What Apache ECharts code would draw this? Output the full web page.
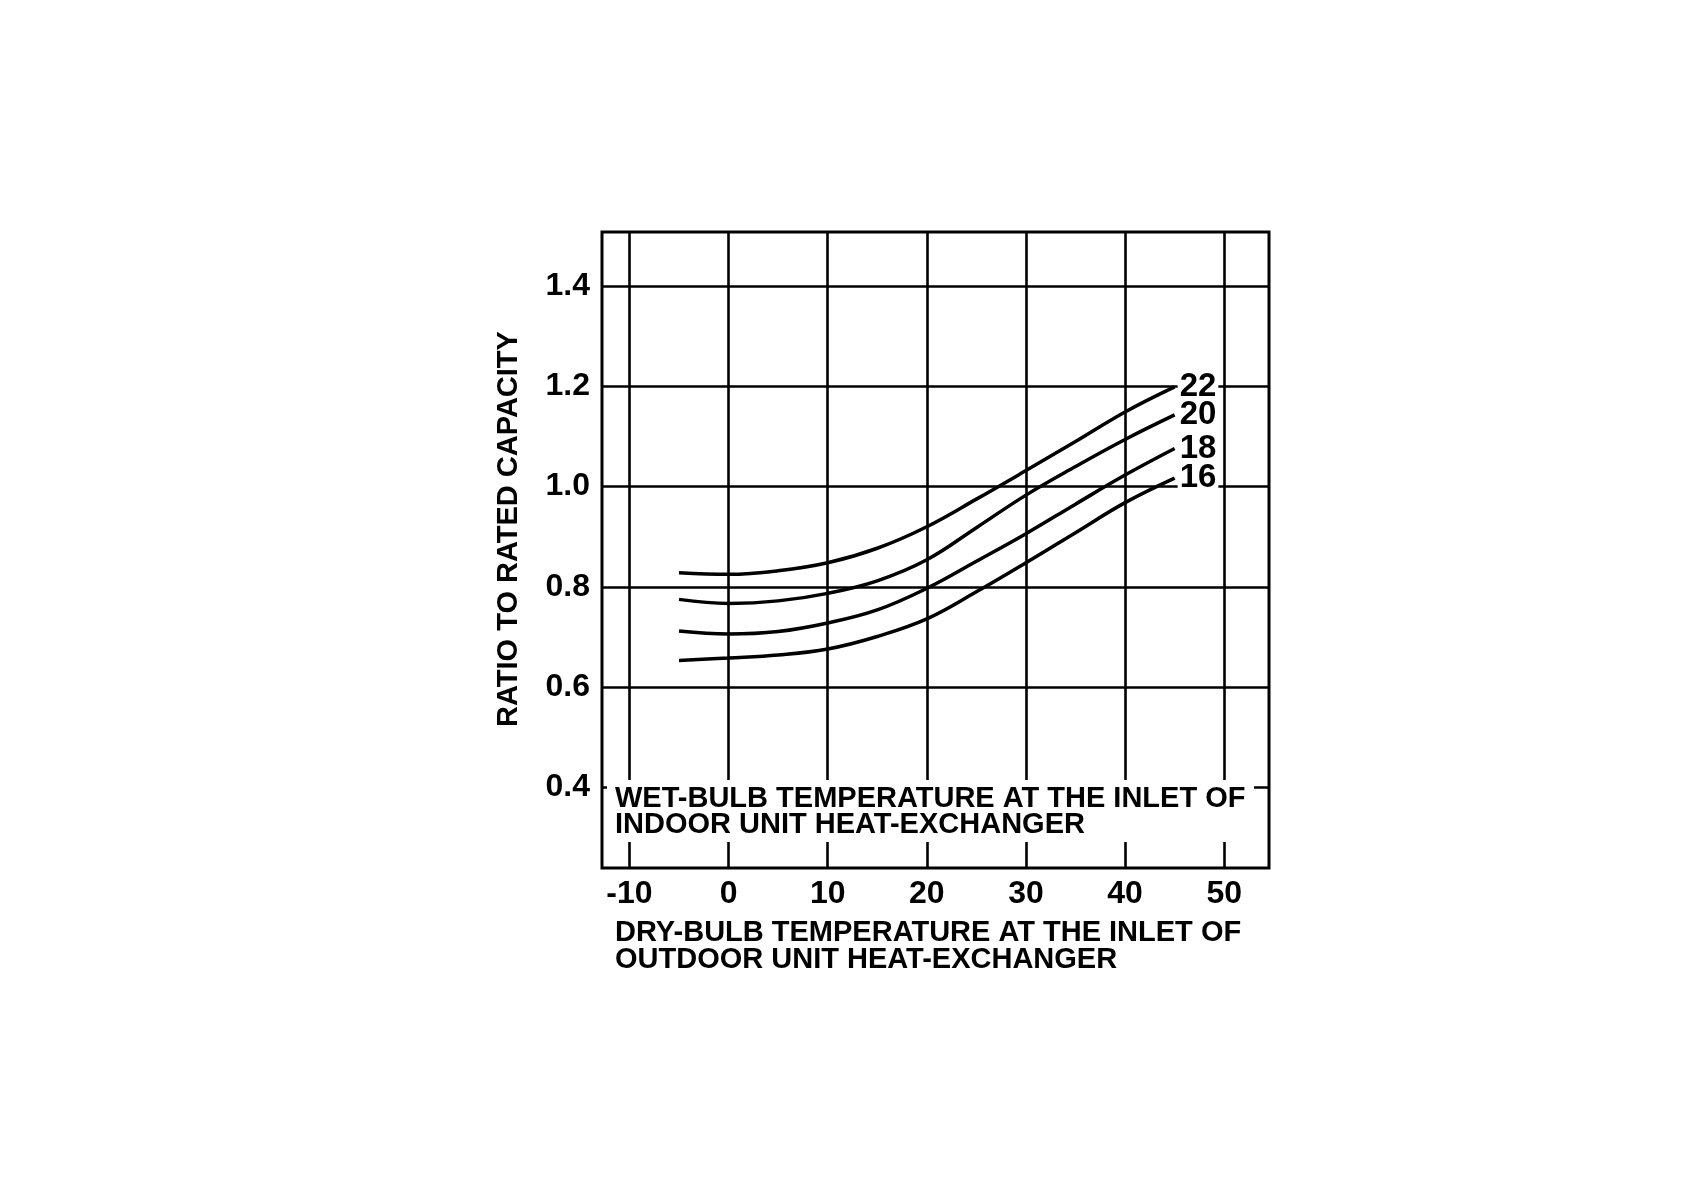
<!DOCTYPE html>
<html><head><meta charset="utf-8">
<script src="https://cdn.jsdelivr.net/npm/echarts@6/dist/echarts.min.js"></script>
<style>html,body{margin:0;padding:0;background:#fff}#c{width:1684px;height:1190px}</style>
</head><body><div id="c"></div>
<script>
// Dry-bulb temperature at outdoor unit inlet (°C)
const dryBulb = [-5, 0, 5, 10, 15, 20, 25, 30, 35, 40, 45];
// Ratio to rated capacity for each indoor wet-bulb temperature
const wb22 = [0.828, 0.825, 0.832, 0.848, 0.877, 0.920, 0.975, 1.032, 1.090, 1.149, 1.199];
const wb20 = [0.775, 0.767, 0.772, 0.787, 0.812, 0.854, 0.918, 0.983, 1.040, 1.094, 1.143];
const wb18 = [0.712, 0.706, 0.711, 0.728, 0.754, 0.797, 0.851, 0.906, 0.965, 1.023, 1.076];
const wb16 = [0.653, 0.658, 0.664, 0.676, 0.701, 0.736, 0.790, 0.848, 0.908, 0.968, 1.017];
const seriesNames = ['22', '20', '18', '16'];
const xTicks = [-10, 0, 10, 20, 30, 40, 50];
const yTicks = [0.4, 0.6, 0.8, 1.0, 1.2, 1.4];

const FONT = "'Liberation Sans', Arial, Helvetica, sans-serif";
const chart = echarts.init(document.getElementById('c'), null, {renderer: 'canvas'});

function pairs(ys) { return dryBulb.map((x, i) => [x, ys[i]]); }

const curveSeries = [wb22, wb20, wb18, wb16].map((ys, i) => ({
  name: seriesNames[i],
  type: 'line',
  data: pairs(ys),
  smooth: 0.4,
  showSymbol: false,
  silent: true,
  z: 5,
  lineStyle: {color: '#000', width: 3.5},
  endLabel: {
    show: true,
    formatter: '{a}',
    color: '#000',
    fontFamily: FONT,
    fontSize: 33,
    fontWeight: 'bold',
    backgroundColor: '#fff',
    padding: [0, 2, 0, 2],
    distance: 3
  }
}));

const gridSeries = {
  type: 'line',
  data: [],
  silent: true,
  z: 1,
  markLine: {
    silent: true,
    symbol: 'none',
    animation: false,
    label: {show: false},
    lineStyle: {color: '#000', width: 2.6, type: 'solid'},
    data: xTicks.map(v => ({xAxis: v})).concat(yTicks.map(v => ({yAxis: v})))
  }
};

chart.setOption({
  animation: false,
  backgroundColor: '#fff',
  grid: {
    left: 602, top: 232, width: 667, height: 636,
    show: true, borderColor: '#000', borderWidth: 3, backgroundColor: 'transparent'
  },
  xAxis: {
    type: 'value', min: -12.77, max: 54.52,
    axisLine: {show: false}, axisTick: {show: false}, splitLine: {show: false},
    axisLabel: {
      customValues: xTicks, color: '#000', fontFamily: FONT, fontSize: 32,
      fontWeight: 'bold', margin: 10
    }
  },
  yAxis: {
    type: 'value', min: 0.239, max: 1.508,
    axisLine: {show: false}, axisTick: {show: false}, splitLine: {show: false},
    axisLabel: {
      customValues: yTicks, color: '#000', fontFamily: FONT, fontSize: 32,
      fontWeight: 'bold', margin: 12, formatter: v => v.toFixed(1)
    }
  },
  series: [gridSeries].concat(curveSeries),
  graphic: [
    {
      type: 'rect', z: 50, silent: true,
      shape: {x: 607, y: 780, width: 647, height: 62},
      style: {fill: '#fff'}
    },
    {
      type: 'text', z: 51, silent: true, x: 615, y: 812,
      style: {
        text: 'WET-BULB TEMPERATURE AT THE INLET OF\nINDOOR UNIT HEAT-EXCHANGER',
        font: 'bold 29px ' + FONT, fill: '#000', lineHeight: 26,
        align: 'left', verticalAlign: 'middle'
      }
    },
    {
      type: 'text', z: 51, silent: true, x: 615, y: 946,
      style: {
        text: 'DRY-BULB TEMPERATURE AT THE INLET OF\nOUTDOOR UNIT HEAT-EXCHANGER',
        font: 'bold 29px ' + FONT, fill: '#000', lineHeight: 27,
        align: 'left', verticalAlign: 'middle'
      }
    },
    {
      type: 'text', z: 51, silent: true, x: 509, y: 529, rotation: Math.PI / 2,
      style: {
        text: 'RATIO TO RATED CAPACITY',
        font: 'bold 29px ' + FONT, fill: '#000',
        align: 'center', verticalAlign: 'middle'
      }
    }
  ]
});
</script>
</body></html>
